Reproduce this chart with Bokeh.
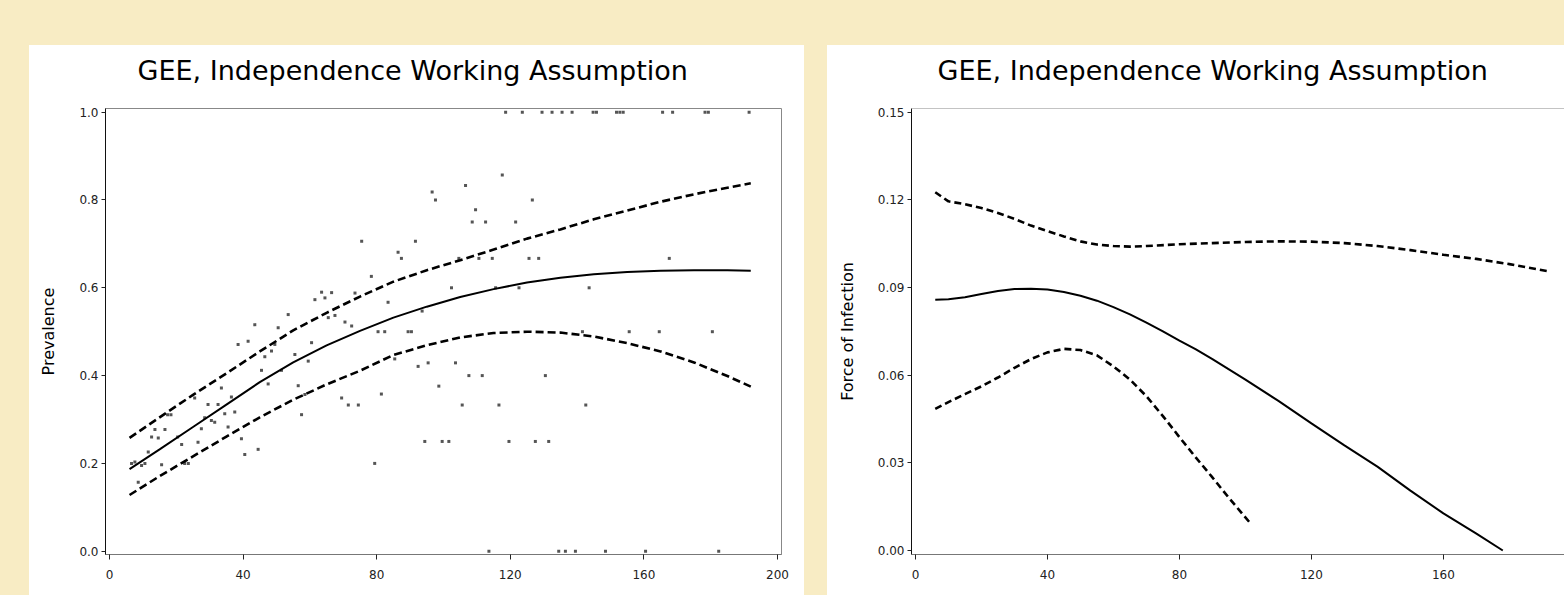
from bokeh.plotting import figure
from bokeh.layouts import row, column
from bokeh.models import FixedTicker, PrintfTickFormatter, Span
from bokeh.embed import file_html
from bokeh.resources import INLINE

CREAM = "#F8ECC4"
FONT = "DejaVu Sans"
TITLE = "GEE, Independence Working Assumption"

# ---------------- left panel data ----------------
age_obs = [6.6, 7.6, 9.6, 10.6, 8.6, 11.6, 12.6, 14.6, 13.6, 16.6, 15.6, 17.4, 18.4, 20.4, 21.6,
           22.5, 23.6, 25.5, 26.5, 27.5, 28.5, 29.5, 30.5, 31.5, 32.5, 33.5, 34.5, 35.5, 36.5,
           37.5, 38.5, 39.5, 40.5, 41.5, 43.5, 44.5, 45.5, 46.5, 47.5, 48.5, 49.5, 50.5, 51.5,
           53.5, 55.5, 56.5, 57.5, 58.5, 59.5, 60.5, 61.5, 63.5, 64.5, 65.5, 66.5, 67.5,
           70.5, 72.5, 73.5, 75.5, 78.4, 69.5, 71.5, 74.5, 79.4, 80.4, 82.4, 81.4, 83.4, 85.4,
           86.4, 87.4, 89.4, 90.4, 91.6, 92.4, 93.6, 94.4, 95.4, 96.6, 97.6, 98.6, 99.6, 101.6,
           102.4, 103.6, 104.6, 105.6, 106.6, 107.6, 108.6, 109.6, 110.6, 111.6, 112.6, 113.6,
           114.6, 115.6, 116.6, 117.6, 118.6, 119.6, 121.6, 122.6, 123.6, 125.6, 126.6, 127.5,
           128.5, 129.5, 132.5, 135.5, 130.5, 131.5, 134.5, 136.5,
           138.5, 144.8, 145.8, 151.8, 152.8, 153.8, 165.6, 168.6, 178.3, 179.3, 191.5,
           167.6, 143.6, 141.6, 155.6, 164.6, 180.5, 142.6, 139.5, 148.5, 160.5, 182.4]
prev_obs = [0.200, 0.203, 0.195, 0.200, 0.157, 0.226, 0.260, 0.258, 0.277, 0.277, 0.197, 0.311, 0.311, 0.260, 0.243,
            0.200, 0.200, 0.349, 0.248, 0.279, 0.304, 0.334, 0.298, 0.294, 0.334, 0.372, 0.313, 0.283, 0.351,
            0.317, 0.471, 0.256, 0.220, 0.478, 0.516, 0.232, 0.412, 0.443, 0.381, 0.456, 0.471, 0.509, 0.412,
            0.539, 0.448, 0.377, 0.311, 0.357, 0.433, 0.475, 0.573, 0.590, 0.577, 0.532, 0.589, 0.537,
            0.522, 0.513, 0.588, 0.706, 0.626, 0.349, 0.333, 0.333, 0.200, 0.500, 0.500, 0.358, 0.567, 0.438,
            0.681, 0.667, 0.500, 0.500, 0.706, 0.421, 0.547, 0.250, 0.429, 0.818, 0.800, 0.376, 0.250, 0.250,
            0.600, 0.429, 0.667, 0.333, 0.833, 0.400, 0.750, 0.778, 0.667, 0.400, 0.750, 0.000,
            0.667, 0.600, 0.333, 0.857, 1.000, 0.250, 0.750, 0.600, 1.000, 0.667, 0.800, 0.250,
            0.667, 1.000, 1.000, 1.000, 0.400, 0.250, 0.000, 0.000,
            1.000, 1.000, 1.000, 1.000, 1.000, 1.000, 1.000, 1.000, 1.000, 1.000, 1.000,
            0.667, 0.600, 0.500, 0.500, 0.500, 0.500, 0.333, 0.000, 0.000, 0.000, 0.000]

age_fit = [6, 15, 25, 35, 45, 55, 65, 75, 85, 95, 105, 115, 125, 135, 145, 155, 165, 175, 185, 192]
prev_fit = [0.187, 0.232, 0.283, 0.334, 0.385, 0.430, 0.469, 0.502, 0.532, 0.557, 0.579, 0.597,
            0.612, 0.623, 0.631, 0.636, 0.639, 0.640, 0.640, 0.639]
prev_upper = [0.258, 0.305, 0.356, 0.405, 0.455, 0.503, 0.543, 0.580, 0.614, 0.640, 0.663, 0.687,
              0.712, 0.733, 0.756, 0.776, 0.796, 0.813, 0.828, 0.838]
prev_lower = [0.128, 0.171, 0.216, 0.261, 0.305, 0.345, 0.380, 0.411, 0.447, 0.469, 0.487, 0.497,
              0.500, 0.498, 0.489, 0.474, 0.455, 0.430, 0.399, 0.375]

# ---------------- right panel data ----------------
age_foi = [6, 10, 15, 20, 25, 30, 35, 40, 45, 50, 55, 60, 65, 70, 75, 80, 85, 90, 100, 110, 120,
           130, 140, 150, 160, 170, 178]
foi_fit = [0.0858, 0.0860, 0.0867, 0.0878, 0.0888, 0.0895, 0.0896, 0.0893, 0.0885, 0.0872, 0.0855,
           0.0833, 0.0808, 0.0780, 0.0750, 0.0718, 0.0688, 0.0655, 0.0585, 0.0512, 0.0435, 0.0360,
           0.0287, 0.0205, 0.0127, 0.0058, 0.0000]
age_foi_up = [6, 10, 15, 20, 25, 30, 35, 40, 45, 50, 55, 60, 65, 70, 80, 90, 100, 110, 120, 130,
              140, 150, 160, 170, 180, 192]
foi_upper = [0.1226, 0.1195, 0.1185, 0.1172, 0.1155, 0.1135, 0.1112, 0.1093, 0.1075, 0.1058, 0.1047,
             0.1042, 0.1040, 0.1042, 0.1048, 0.1052, 0.1056, 0.1058, 0.1057, 0.1052, 0.1042, 0.1028,
             0.1012, 0.0998, 0.0980, 0.0955]
age_foi_lo = [6, 10, 15, 20, 25, 30, 35, 40, 45, 50, 55, 60, 65, 70, 75, 80, 85, 90, 95, 101.5]
foi_lower = [0.0485, 0.0508, 0.0535, 0.0562, 0.0592, 0.0625, 0.0655, 0.0678, 0.0690, 0.0686, 0.0668,
             0.0630, 0.0585, 0.0528, 0.0460, 0.0388, 0.0318, 0.0250, 0.0180, 0.0093]

x_ticks = [0, 40, 80, 120, 160, 200]
prev_ticks = [0.0, 0.2, 0.4, 0.6, 0.8, 1.0]
foi_ticks = [0.00, 0.03, 0.06, 0.09, 0.12, 0.15]

TITLE_H = 62


def title_fig(width, offset):
    t = figure(width=width, height=TITLE_H, output_backend="svg", toolbar_location=None,
               x_axis_type=None, y_axis_type=None,
               min_border=0, min_border_left=0, min_border_right=0, min_border_top=0,
               min_border_bottom=0)
    t.outline_line_color = None
    t.xgrid.visible = False
    t.ygrid.visible = False
    t.border_fill_color = "white"
    t.background_fill_color = "white"
    t.title.text = TITLE
    t.title.text_font = FONT
    t.title.text_font_size = "27px"
    t.title.text_font_style = "normal"
    t.title.text_color = "black"
    t.title.align = "left"
    t.title.offset = offset
    t.title.standoff = 14
    return t


def style(p, yticks, yfmt, ylabel):
    p.xgrid.visible = False
    p.ygrid.visible = False
    p.border_fill_color = "white"
    p.background_fill_color = "white"
    for ax in (p.xaxis[0], p.yaxis[0]):
        ax.major_label_text_font = FONT
        ax.major_label_text_font_size = "12px"
        ax.major_label_text_color = "#222222"
        ax.minor_tick_line_color = None
        ax.major_tick_line_color = "#222222"
        ax.major_tick_in = 0
    p.xaxis[0].ticker = FixedTicker(ticks=x_ticks)
    p.xaxis[0].major_tick_out = 5
    p.xaxis[0].major_label_standoff = 10
    p.xaxis[0].axis_line_color = "#777777"
    p.yaxis[0].ticker = FixedTicker(ticks=yticks)
    p.yaxis[0].formatter = PrintfTickFormatter(format=yfmt)
    p.yaxis[0].major_tick_out = 4
    p.yaxis[0].major_label_standoff = 3
    p.yaxis[0].axis_line_color = "#111111"
    p.yaxis[0].axis_label = ylabel
    p.yaxis[0].axis_label_text_font = FONT
    p.yaxis[0].axis_label_text_font_size = "16px"
    p.yaxis[0].axis_label_text_font_style = "normal"
    p.yaxis[0].axis_label_text_color = "black"
    p.yaxis[0].axis_label_standoff = 18


# ---------------- left figure ----------------
# (the column aligns this title figure's frame with the plot frame below it)
t1 = title_fig(775, 32)
p1 = figure(width=775, height=550 - TITLE_H, x_range=(-1.2, 201.2), y_range=(-0.0075, 1.0084),
            output_backend="svg", toolbar_location=None,
            min_border_left=76, min_border_right=23, min_border_top=1, min_border_bottom=41)
style(p1, prev_ticks, "%.1f", "Prevalence")
p1.outline_line_color = "#888888"
p1.scatter(age_obs, prev_obs, marker="square", size=3, color="#555555", line_color=None)
p1.line(age_fit, prev_fit, line_color="black", line_width=2)
p1.line(age_fit, prev_upper, line_color="black", line_width=2.6, line_dash="8 4")
p1.line(age_fit, prev_lower, line_color="black", line_width=2.6, line_dash="8 4")

# ---------------- right figure ----------------
t2 = title_fig(737, 26)
p2 = figure(width=737, height=550 - TITLE_H, x_range=(-1.2, 196.7), y_range=(-0.00137, 0.15127),
            output_backend="svg", toolbar_location=None,
            min_border_left=84, min_border_right=0, min_border_top=1, min_border_bottom=41)
style(p2, foi_ticks, "%.2f", "Force of Infection")
p2.outline_line_color = None
p2.add_layout(Span(location=0.15127, dimension="width", line_color="#888888", line_width=1))
p2.line(age_foi, foi_fit, line_color="black", line_width=2)
p2.line(age_foi_up, foi_upper, line_color="black", line_width=2.6, line_dash="7 4")
p2.line(age_foi_lo, foi_lower, line_color="black", line_width=2.6, line_dash="7 4")

left = column(t1, p1, spacing=0, styles={"background-color": "white"})
left.margin = (45, 0, 0, 29)
right = column(t2, p2, spacing=0, styles={"background-color": "white"})
right.margin = (45, 0, 0, 23)

layout = row(left, right, width=1564, height=595, styles={"background-color": CREAM})

open("out.html", "w").write(file_html(layout, INLINE))
